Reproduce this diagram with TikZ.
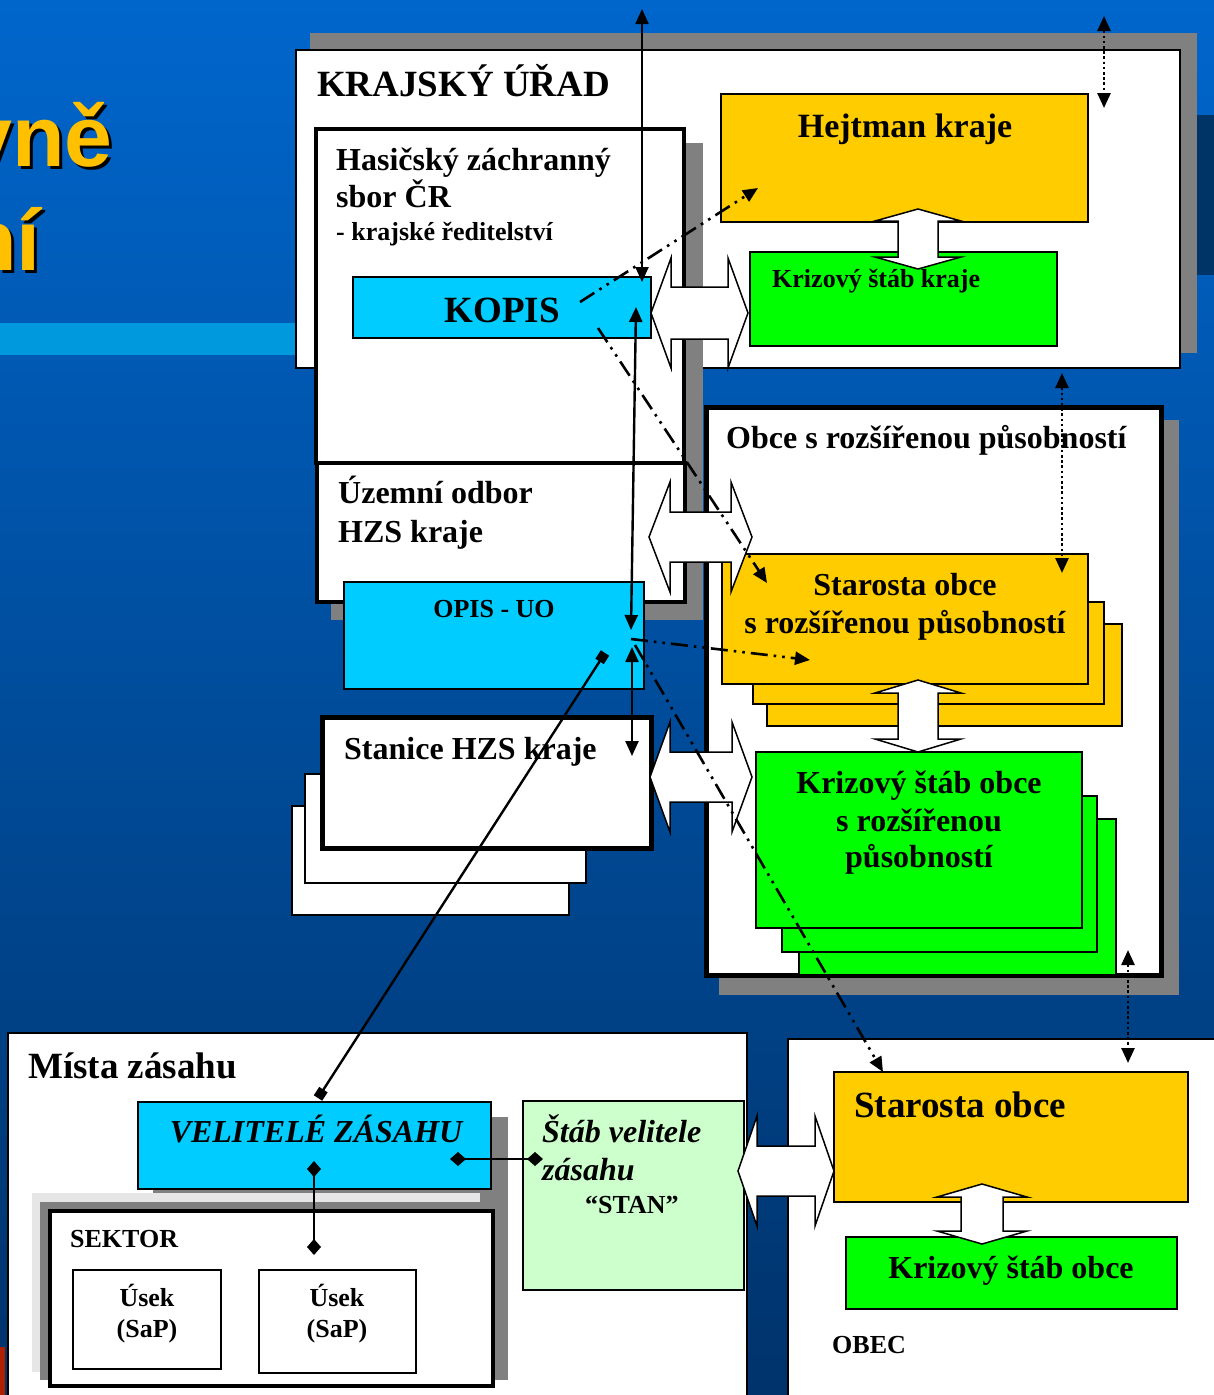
\documentclass[tikz,border=0pt]{standalone}
\usepackage{fontspec}
\setmainfont{Liberation Serif}
\newfontfamily\titlefont{Liberation Sans}
\usetikzlibrary{arrows.meta,fit}
\definecolor{bgtop}{HTML}{0066CC}
\definecolor{bgbot}{HTML}{00336B}
\definecolor{bandc}{HTML}{0099DD}
\definecolor{navyc}{HTML}{003366}
\definecolor{ttlc}{HTML}{FFC000}
\definecolor{ycol}{HTML}{FFCC00}
\definecolor{gcol}{HTML}{00FF00}
\definecolor{ccol}{HTML}{00CCFF}
\definecolor{lgcol}{HTML}{CCFFCC}
\definecolor{shd}{HTML}{808080}
\definecolor{lshd}{HTML}{E6E6E6}
\definecolor{redc}{HTML}{B02000}
\newcommand\myfs[1]{\fontsize{#1}{#1}\selectfont}
\newcommand\blkh[6]{\draw[blockarrow] (#1,#3) -- ({#1+#4},{#3-#5}) -- ({#1+#4},{#3-#6}) -- ({#2-#4},{#3-#6}) -- ({#2-#4},{#3-#5}) -- (#2,#3) -- ({#2-#4},{#3+#5}) -- ({#2-#4},{#3+#6}) -- ({#1+#4},{#3+#6}) -- ({#1+#4},{#3+#5}) -- cycle;}
\newcommand\blkv[6]{\draw[blockarrow] (#3,#1) -- ({#3+#5},{#1+#4}) -- ({#3+#6},{#1+#4}) -- ({#3+#6},{#2-#4}) -- ({#3+#5},{#2-#4}) -- (#3,#2) -- ({#3-#5},{#2-#4}) -- ({#3-#6},{#2-#4}) -- ({#3-#6},{#1+#4}) -- ({#3-#5},{#1+#4}) -- cycle;}
\tikzset{
  bx/.style={draw=black, line width=1.8pt, inner sep=0pt, rectangle},
  thk/.style={line width=4.5pt},
  blockarrow/.style={draw=black, fill=white, line width=1.5pt, line join=miter},
  txt/.style={inner sep=0pt, font=\bfseries, text=black},
  itxt/.style={inner sep=0pt, font=\bfseries\itshape, text=black},
  ttl/.style={inner sep=0pt, font=\titlefont\bfseries\myfs{86}, anchor=base east},
  conn/.style={draw=black, line width=2.4pt},
  tip/.tip={Triangle[length=15pt,width=13pt]},
  ddd/.style={conn, line width=2.6pt, dash pattern=on 17pt off 6pt on 2.6pt off 6pt on 2.6pt off 6pt},
  dtt/.style={conn, line width=2.6pt, dash pattern=on 2.6pt off 2.6pt},
}
\begin{document}
\begin{tikzpicture}[x=1pt,y=-1pt]
\useasboundingbox (0,0) rectangle (1214,1395);
\clip (0,0) rectangle (1214,1395);
% background
\shade[top color=bgtop, bottom color=bgbot] (0,0) rectangle (1214,1395);
\fill[bandc] (0,323) rectangle (296,355);
\fill[navyc] (1197,115) rectangle (1214,275);
\fill[redc] (0,1347) rectangle (5,1395);
% title (shadow + text)
\node[ttl, text=black] (tvs) at (116,169) {vně};
\node[ttl, text=ttlc] (tv) at (113,166) {vně};
\node[ttl, text=black] (tns) at (44,273) {ní};
\node[ttl, text=ttlc] (tn) at (41,270) {ní};
% KRAJSKY URAD
\fill[shd] (310,33) rectangle (1197,353);
\node[bx, fill=white, fit={(296,50)(1180,368)}] (kraj) {};
\node[bx, fill=ycol, fit={(721,94)(1088,222)}] (hejt) {};
\node[bx, fill=gcol, fit={(750,252)(1057,346)}] (ksk) {};
% HZS
\fill[shd] (331,143) rectangle (703,620);
\node[bx, thk, fill=white, fit={(316,129)(684,463)}] (hzs) {};
\node[bx, thk, fill=white, fit={(317,463)(685,602)}] (uo) {};
\node[bx, fill=ccol, fit={(353,277)(651,338)}] (kopis) {};
\node[bx, fill=ccol, fit={(344,582)(644,689)}] (opis) {};
% ORP
\fill[shd] (719,420) rectangle (1179,995);
\node[bx, line width=5pt, fill=white, fit={(706,407)(1161,975)}] (orp) {};
\node[bx, fill=ycol, fit={(767,624)(1122,726)}] (sy3) {};
\node[bx, fill=ycol, fit={(753,602)(1104,704)}] (sy2) {};
\node[bx, fill=ycol, fit={(722,554)(1088,684)}] (sy1) {};
\node[bx, fill=gcol, fit={(799,819)(1116,975)}] (kg3) {};
\node[bx, fill=gcol, fit={(782,796)(1097,952)}] (kg2) {};
\node[bx, fill=gcol, fit={(756,752)(1082,928)}] (kg1) {};
% Stanice
\node[bx, fill=white, fit={(292,806)(569,915)}] (st3) {};
\node[bx, fill=white, fit={(305,774)(586,883)}] (st2) {};
\node[bx, line width=5pt, fill=white, fit={(322,717)(651,848)}] (st1) {};
% Mista zasahu
\node[bx, fill=white, fit={(8,1033)(747,1405)}] (mista) {};
\fill[shd] (153,1117) rectangle (508,1207);
\fill[lshd] (32,1193) rectangle (480,1372);
\fill[shd] (40,1202) rectangle (508,1380);
\node[bx, fill=ccol, fit={(138,1102)(491,1189)}] (vel) {};
\node[bx, thk, fill=white, fit={(50,1211)(493,1386)}] (sektor) {};
\node[bx, fill=white, fit={(73,1270)(221,1369)}] (usek1) {};
\node[bx, fill=white, fit={(259,1270)(416,1373)}] (usek2) {};
\node[bx, fill=lgcol, fit={(523,1101)(744,1290)}] (stab) {};
% OBEC
\node[bx, fill=white, fit={(788,1039)(1225,1405)}] (obec) {};
\node[bx, fill=ycol, fit={(834,1072)(1188,1202)}] (staro) {};
\node[bx, fill=gcol, fit={(846,1237)(1177,1309)}] (kso) {};
% block arrows
\blkh{651}{748}{313}{20}{55}{26}
\blkh{649}{752}{537}{21}{55}{25}
\blkh{650}{752}{777}{20}{55}{25}
\blkh{738}{834}{1171}{19}{55}{25}
\blkv{209}{269}{918}{12}{43}{20}
\blkv{680}{752}{918}{13}{43}{20}
\blkv{1184}{1244}{982}{13}{45}{21}
% texts
\node[txt, anchor=base west] (t1) at (317,96) {\myfs{37}KRAJSKÝ ÚŘAD};
\node[txt, anchor=base west] (t2) at (336,170) {\myfs{32}Hasičský záchranný};
\node[txt, anchor=base west] (t3) at (336,207) {\myfs{32}sbor ČR};
\node[txt, anchor=base west] (t4) at (336,240) {\myfs{26}- krajské ředitelství};
\node[txt, anchor=base] (t5) at (502,322) {\myfs{37}KOPIS};
\node[txt, anchor=base west] (t6) at (338,503) {\myfs{32}Územní odbor};
\node[txt, anchor=base west] (t7) at (338,542) {\myfs{32}HZS kraje};
\node[txt, anchor=base] (t8) at (494,617) {\myfs{26}OPIS - UO};
\node[txt, anchor=base west] (t9) at (344,759) {\myfs{32}Stanice HZS kraje};
\node[txt, anchor=base west] (t10) at (726,448) {\myfs{32}Obce s rozšířenou působností};
\node[txt, anchor=base] (t11) at (905,137) {\myfs{34}Hejtman kraje};
\node[txt, anchor=base west] (t12) at (772,287) {\myfs{26}Krizový štáb kraje};
\node[txt, anchor=base] (t13) at (905,595) {\myfs{32}Starosta obce};
\node[txt, anchor=base] (t14) at (905,633) {\myfs{32}s rozšířenou působností};
\node[txt, anchor=base] (t15) at (919,793) {\myfs{32}Krizový štáb obce};
\node[txt, anchor=base] (t16) at (919,831) {\myfs{32}s rozšířenou};
\node[txt, anchor=base] (t17) at (919,867) {\myfs{32}působností};
\node[txt, anchor=base west] (t18) at (28,1078) {\myfs{37}Místa zásahu};
\node[itxt, anchor=base] (t19) at (316,1142) {\myfs{32}VELITELÉ ZÁSAHU};
\node[txt, anchor=base west] (t20) at (70,1247) {\myfs{26}SEKTOR};
\node[txt, anchor=base] (t21) at (147,1306) {\myfs{26}Úsek};
\node[txt, anchor=base] (t22) at (147,1337) {\myfs{26}(SaP)};
\node[txt, anchor=base] (t23) at (337,1306) {\myfs{26}Úsek};
\node[txt, anchor=base] (t24) at (337,1337) {\myfs{26}(SaP)};
\node[itxt, anchor=base west] (t25) at (542,1142) {\myfs{32}Štáb velitele};
\node[itxt, anchor=base west] (t26) at (542,1180) {\myfs{32}zásahu};
\node[txt, anchor=base west] (t27) at (585,1213) {\myfs{26}“STAN”};
\node[txt, anchor=base west] (t28) at (854,1117) {\myfs{37}Starosta obce};
\node[txt, anchor=base] (t29) at (1011,1278) {\myfs{32}Krizový štáb obce};
\node[txt, anchor=base west] (t30) at (832,1353) {\myfs{26}OBEC};
% connector end points
\coordinate (a1) at (642,9);   \coordinate (a2) at (642,282);
\coordinate (b1) at (636,307); \coordinate (b2) at (631,630);
\coordinate (c1) at (632,647); \coordinate (c2) at (632,756);
\coordinate (d1) at (605,653); \coordinate (d2) at (318,1098);
\coordinate (e1) at (314,1161); \coordinate (e2) at (314,1255);
\coordinate (f1) at (450,1159); \coordinate (f2) at (543,1159);
\coordinate (g1) at (580,302); \coordinate (g2) at (758,188);
\coordinate (h1) at (598,328); \coordinate (h2) at (767,583);
\coordinate (i1) at (631,639); \coordinate (i2) at (810,660);
\coordinate (j1) at (635,645); \coordinate (j2) at (883,1072);
\coordinate (k1) at (1104,16); \coordinate (k2) at (1104,108);
\coordinate (l1) at (1062,373); \coordinate (l2) at (1062,573);
\coordinate (m1) at (1128,950); \coordinate (m2) at (1128,1063);
% connectors
\draw[conn, tip-tip] (a1) -- (a2);
\draw[conn, tip-tip] (b1) -- (b2);
\draw[conn, tip-tip] (c1) -- (c2);
\draw[conn, {Square[length=10pt,width=10pt]}-{Square[length=10pt,width=10pt]}] (d1) -- (d2);
\draw[conn, {Diamond[length=16pt,width=14pt]}-{Diamond[length=16pt,width=14pt]}] (e1) -- (e2);
\draw[conn, {Diamond[length=16pt,width=14pt]}-{Diamond[length=16pt,width=14pt]}] (f1) -- (f2);
\draw[ddd, -tip] (g1) -- (g2);
\draw[ddd, -tip] (h1) -- (h2);
\draw[ddd, -tip] (i1) -- (i2);
\draw[ddd, -tip] (j1) -- (j2);
\draw[dtt, tip-tip] (k1) -- (k2);
\draw[dtt, tip-tip] (l1) -- (l2);
\draw[dtt, tip-tip] (m1) -- (m2);
\end{tikzpicture}
\end{document}
